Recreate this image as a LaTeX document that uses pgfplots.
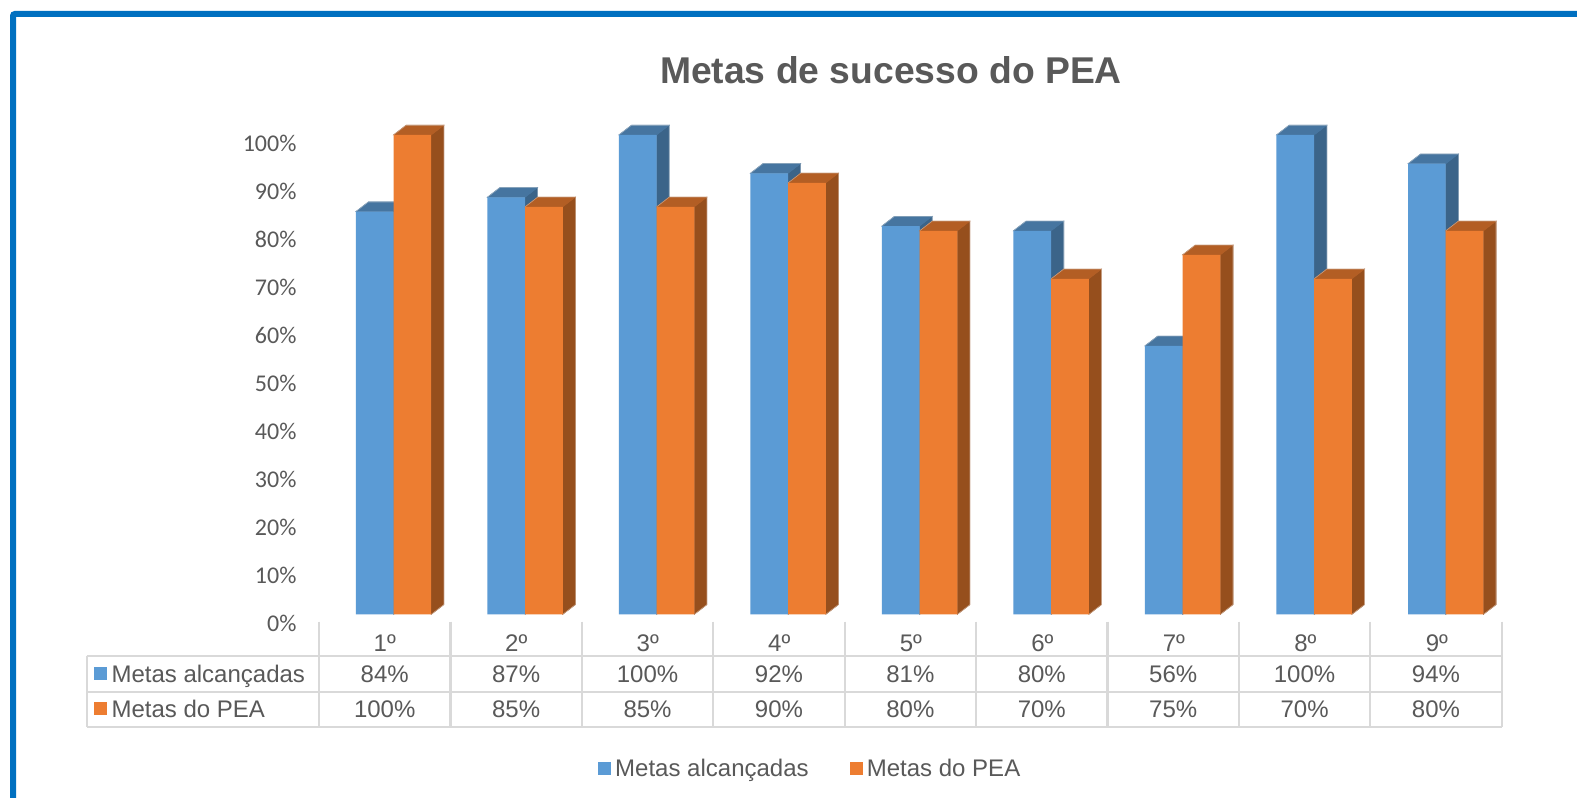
\documentclass[border=0pt]{standalone}
\usepackage{fontspec}
\setmainfont{Liberation Sans}
\newfontfamily\carlito{Carlito}
\usepackage{pgfplots}
\usepackage{pgfplotstable}
\pgfplotsset{compat=1.18}
\definecolor{txt}{HTML}{595959}
\definecolor{frame}{HTML}{0070C0}
\definecolor{grid}{HTML}{D9D9D9}
\definecolor{bluef}{HTML}{5B9BD5}
\definecolor{bluet}{HTML}{4675A0}
\definecolor{blues}{HTML}{3B6489}
\definecolor{orangef}{HTML}{ED7D31}
\definecolor{oranget}{HTML}{B35E24}
\definecolor{oranges}{HTML}{964F1D}
\newcommand\lab{\fontsize{18}{20}\selectfont}
\pgfplotstableread{
x a p
1 84 100
2 87 85
3 100 85
4 92 90
5 81 80
6 80 70
7 56 75
8 100 70
9 94 80
}\metas
\pgfplotsset{
 faces/.style n args={3}{
  forget plot, only marks, scatter, mark=*, mark size=0pt,
  mark options={draw=none,fill=none},
  visualization depends on={y \as \rawy},
  scatter/@pre marker code/.code={
    \pgfmathsetmacro\hh{\rawy*3.595}
    \pgfmathsetmacro\xl{#1-14.14}
    \pgfmathsetmacro\xr{#1+14.14}
    \pgfmathsetmacro\xlb{#1-14.14+9.45}
    \pgfmathsetmacro\xrb{#1+14.14+9.45}
    \pgfmathsetmacro\yb{7.28-\hh}
    \pgfmathsetmacro\yc{-\hh}
    \fill[#3] (\xr pt,0pt) -- (\xrb pt,7.28pt) -- (\xrb pt,\yb pt) -- (\xr pt,\yc pt) -- cycle;
    \fill[#2] (\xl pt,0pt) -- (\xlb pt,7.28pt) -- (\xrb pt,7.28pt) -- (\xr pt,0pt) -- cycle;
    \draw[#3!55!white,line width=0.45pt] (\xl pt,0pt) -- (\xlb pt,7.28pt) -- (\xrb pt,7.28pt) -- (\xrb pt,\yb pt) -- (\xr pt,\yc pt);
    \begin{scope}},
  scatter/@post marker code/.code={\end{scope}}
 }
}
\begin{document}
\begin{tikzpicture}
\path[use as bounding box,fill=white] (0pt,0pt) rectangle (1182.75pt,-598.5pt);
\begin{scope}[x=0.75pt,y=-0.75pt]
\draw[frame,line width=4.5pt,rounded corners=1.5pt] (13,800) -- (13,14) -- (1579,14);
\node[txt,anchor=center,font=\bfseries\fontsize{27.95}{30}\selectfont] at (891,70) {Metas de sucesso do PEA};
% data table grid
\draw[grid,line width=1.7pt] (86.7,656) -- (1501.7,656) (86.7,691.7) -- (1501.7,691.7) (86.7,727.3) -- (1501.7,727.3) (86.7,656) -- (86.7,727.3);
\foreach \i in {0,...,9} \draw[grid,line width=1.7pt] ({319+131.41*\i},621.7) -- ({319+131.41*\i},727.3);
\fill[bluef] (94,667.3) rectangle (107,680);
\fill[orangef] (94,702) rectangle (107,715);
\node[txt,anchor=base west,inner sep=0pt,font=\lab] at (111.3,682.4) {Metas alcançadas};
\node[txt,anchor=base west,inner sep=0pt,font=\lab] at (111.3,717.2) {Metas do PEA};
\foreach \v [count=\i] in {84,87,100,92,81,80,56,100,94}
  \node[txt,anchor=base,inner sep=0pt,font=\lab] at ({319+131.41*(\i-0.5)},682.4) {\v\%};
\foreach \v [count=\i] in {100,85,85,90,80,70,75,70,80}
  \node[txt,anchor=base,inner sep=0pt,font=\lab] at ({319+131.41*(\i-0.5)},717.2) {\v\%};
\end{scope}
\begin{axis}[
  at={(225pt,-460.725pt)}, anchor=south west,
  scale only axis, width=901.3pt, height=359.5pt,
  xmin=0.289, xmax=9.4259, ymin=0, ymax=100,
  clip=false, clip mode=individual,
  axis line style={draw=none},
  major tick length=0pt,
  ytick={0,10,...,100},
  yticklabels={0\%,10\%,20\%,30\%,40\%,50\%,60\%,70\%,80\%,90\%,100\%},
  yticklabel style={font=\carlito\lab,text=txt,inner sep=0pt,xshift=-2.5pt,yshift=-6.6pt},
  xtick={1,...,9},
  xticklabels={1º,2º,3º,4º,5º,6º,7º,8º,9º},
  xticklabel style={font=\lab,text=txt,anchor=base,inner sep=0pt,xshift=-6.6pt,yshift=-28pt},
  legend columns=2,
  legend style={at={(0.248,-0.3215)},anchor=west,draw=none,fill=none,inner sep=0pt,outer sep=0pt,
    font=\lab,text=txt,
    /tikz/every odd column/.append style={column sep=1.15pt},
    /tikz/every even column/.append style={column sep=28.75pt}},
  legend cell align=left,
]
\addplot[faces={-14.14}{bluet}{blues}] table[x=x,y=a] {\metas};
\addplot[ybar,bar width=28.28pt,bar shift=-14.14pt,fill=bluef,draw=none,
  legend image code/.code={\fill[bluef] (0pt,-4.875pt) rectangle (9.75pt,4.875pt);}] table[x=x,y=a] {\metas};
\addlegendentry{Metas alcançadas}
\addplot[faces={14.14}{oranget}{oranges}] table[x=x,y=p] {\metas};
\addplot[ybar,bar width=28.28pt,bar shift=14.14pt,fill=orangef,draw=none,
  legend image code/.code={\fill[orangef] (0pt,-4.875pt) rectangle (9.75pt,4.875pt);}] table[x=x,y=p] {\metas};
\addlegendentry{Metas do PEA}
\end{axis}
\end{tikzpicture}
\end{document}
